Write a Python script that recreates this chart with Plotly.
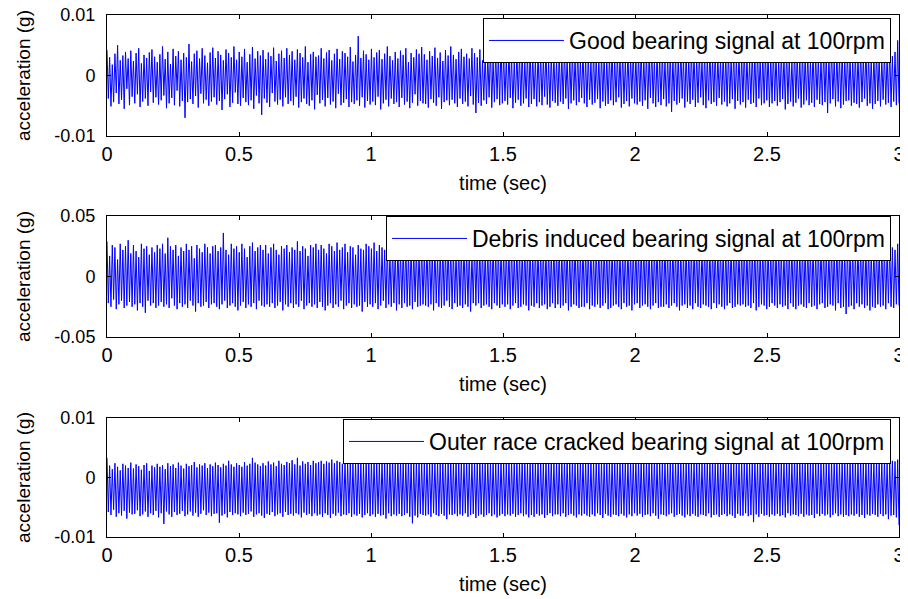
import numpy as np
import plotly.graph_objects as go

# ---------------- data ----------------
DURATION_S = 3.0
X_TICKS = [0, 0.5, 1, 1.5, 2, 2.5, 3]
X_TICK_LABELS = ["0", "0.5", "1", "1.5", "2", "2.5", "3"]

# Good bearing signal, in units of 1e-4 g
GOOD_E4 = [
    42, -38, 30, -51, 18, -44, 36, -29, 50, -47, 25, -40, 33, -55, 39, -22, 28, -49, 41, -35,
    24, -46, 37, -31, 45, -52, 20, -43, 34, -38, 29, -50, 38, -27, 43, -45, 31, -36, 22, -48,
    35, -41, 48, -33, 27, -54, 39, -46, 19, -37, 44, -49, 32, -25, 40, -51, 26, -42, 37, -70,
    30, -44, 52, -39, 23, -47, 36, -34, 41, -53, 28, -30, 45, -46, 33, -40, 21, -50, 38, -43,
    46, -36, 29, -48, 40, -42, 34, -57, 25, -39, 43, -31, 37, -52, 30, -45, 48, -28, 26, -47,
    39, -50, 31, -37, 44, -44, 22, -49, 35, -41, 47, -55, 28, -33, 40, -46, 33, -65, 42, -38,
    27, -45, 38, -52, 32, -29, 46, -43, 24, -48, 36, -40, 41, -51, 29, -36, 45, -47, 34, -42,
    40, -49, 26, -35, 43, -53, 37, -44, 30, -38, 48, -47, 22, -50, 35, -41, 39, -56, 31, -32,
    33, -46, 45, -40, 28, -51, 38, -37, 42, -48, 25, -43, 36, -54, 44, -30, 27, -49, 40, -45,
    37, -39, 31, -52, 47, -44, 23, -47, 34, -41, 65, -50, 29, -36, 41, -53, 35, -42, 26, -48,
    44, -43, 30, -49, 38, -35, 42, -56, 27, -46, 36, -40, 48, -51, 32, -38, 25, -47, 39, -44,
    28, -52, 41, -37, 34, -48, 45, -43, 22, -54, 37, -45, 30, -31, 43, -50, 36, -42, 47, -46,
    35, -47, 26, -53, 40, -39, 32, -45, 46, -50, 29, -36, 38, -55, 24, -44, 42, -41, 33, -49,
    48, -40, 34, -46, 27, -52, 39, -38, 44, -47, 31, -43, 36, -51, 28, -34, 45, -48, 37, -62,
    30, -45, 43, -50, 25, -41, 38, -47, 33, -36, 49, -53, 27, -44, 40, -39, 35, -49, 55, -46,
    38, -42, 29, -48, 45, -37, 32, -54, 26, -45, 41, -40, 36, -50, 43, -46, 24, -38, 39, -52,
    46, -47, 33, -39, 28, -51, 42, -44, 37, -49, 30, -35, 47, -48, 25, -53, 38, -42, 34, -45,
    27, -50, 40, -43, 35, -47, 44, -38, 29, -55, 36, -46, 41, -41, 32, -49, 48, -44, 26, -37,
    43, -46, 31, -52, 38, -40, 25, -48, 45, -45, 34, -39, 28, -54, 40, -43, 37, -50, 30, -47,
    36, -41, 47, -49, 29, -44, 39, -36, 33, -53, 42, -47, 26, -42, 45, -51, 31, -38, 44, -46,
    32, -48, 37, -43, 46, -50, 28, -41, 40, -55, 35, -37, 49, -46, 27, -52, 38, -44, 33, -49,
    41, -39, 26, -51, 35, -46, 44, -60, 30, -42, 38, -48, 32, -45, 46, -38, 29, -53, 40, -43,
    28, -47, 43, -40, 37, -52, 31, -45, 42, -36, 25, -49, 39, -54, 34, -41, 47, -47, 30, -44,
    45, -50, 33, -37, 27, -48, 40, -43, 36, -51, 44, -46, 29, -39, 41, -55, 32, -42, 38, -48,
    34, -44, 48, -53, 31, -40, 26, -47, 43, -45, 37, -52, 45, -38, 28, -49, 36, -46, 42, -41,
    39, -52, 30, -46, 44, -42, 35, -50, 27, -44, 41, -39, 33, -56, 46, -47, 31, -43, 25, -51,
    47, -45, 36, -38, 29, -53, 42, -48, 34, -41, 38, -49, 26, -45, 43, -52, 37, -40, 32, -47,
    30, -49, 45, -44, 38, -62, 33, -46, 47, -39, 28, -51, 40, -43, 35, -54, 44, -48, 27, -42,
    42, -41, 31, -50, 26, -45, 39, -47, 36, -53, 45, -44, 30, -38, 48, -50, 34, -46, 29, -55,
    37, -47, 44, -42, 33, -51, 28, -40, 41, -48, 35, -45, 46, -52, 32, -43, 39, -49, 58, -46,
]

# Debris induced bearing signal, in units of 1e-3 g
DEBRIS_E3 = [
    29, -22, 17, -25, 26, -19, 24, -27, 14, -23, 27, -20, 22, -26, 25, -24, 30, -21, 19, -25,
    26, -23, 21, -28, 16, -22, 27, -25, 23, -30, 25, -20, 18, -24, 24, -22, 20, -26, 26, -24,
    23, -21, 27, -25, 19, -23, 32, -26, 25, -18, 22, -24, 26, -27, 17, -22, 24, -25, 21, -23,
    27, -26, 22, -20, 25, -24, 15, -29, 26, -22, 23, -25, 20, -24, 27, -21, 24, -26, 19, -23,
    25, -22, 26, -25, 21, -27, 24, -23, 36, -20, 22, -26, 18, -24, 27, -22, 23, -25, 25, -28,
    20, -24, 27, -21, 23, -26, 16, -23, 25, -25, 28, -22, 21, -27, 24, -20, 26, -24, 22, -25,
    26, -23, 19, -25, 24, -22, 27, -26, 22, -24, 18, -21, 25, -28, 23, -23, 26, -25, 20, -22,
    24, -26, 22, -23, 29, -25, 21, -20, 25, -27, 23, -24, 17, -22, 26, -25, 24, -23, 27, -26,
    22, -21, 26, -25, 23, -28, 19, -24, 27, -22, 25, -26, 21, -23, 28, -25, 22, -20, 24, -27,
    27, -24, 20, -22, 25, -26, 24, -23, 18, -25, 26, -24, 23, -29, 22, -21, 27, -25, 25, -23,
    23, -25, 28, -22, 21, -27, 26, -24, 24, -20, 22, -26, 27, -23, 19, -25, 25, -22, 23, -28,
    26, -23, 22, -26, 24, -22, 29, -25, 20, -24, 26, -27, 23, -21, 25, -25, 21, -24, 27, -23,
    21, -24, 27, -25, 25, -23, 22, -28, 26, -22, 18, -25, 24, -26, 27, -24, 23, -20, 26, -25,
    25, -27, 23, -22, 20, -25, 27, -24, 24, -26, 26, -23, 22, -25, 25, -29, 19, -22, 28, -24,
    27, -22, 24, -26, 26, -24, 21, -23, 25, -25, 23, -27, 28, -22, 22, -24, 26, -26, 24, -23,
    22, -25, 26, -23, 23, -27, 27, -24, 19, -22, 25, -26, 24, -25, 21, -23, 27, -24, 25, -28,
    26, -24, 21, -25, 28, -22, 24, -26, 22, -24, 26, -23, 23, -27, 25, -25, 20, -22, 27, -26,
    24, -23, 27, -26, 22, -24, 25, -22, 26, -28, 21, -25, 24, -23, 28, -24, 23, -26, 22, -25,
    27, -25, 23, -22, 26, -27, 24, -24, 20, -25, 27, -23, 25, -26, 22, -24, 26, -22, 24, -27,
    23, -26, 25, -24, 21, -23, 27, -25, 24, -27, 22, -22, 26, -25, 25, -24, 23, -28, 27, -23,
    26, -22, 22, -26, 25, -24, 28, -23, 23, -25, 26, -27, 21, -24, 24, -22, 27, -26, 22, -25,
    24, -25, 27, -23, 23, -26, 21, -24, 26, -22, 25, -25, 27, -28, 23, -24, 20, -23, 26, -26,
    22, -24, 26, -27, 24, -22, 27, -25, 22, -26, 24, -23, 26, -24, 28, -25, 23, -27, 25, -22,
    27, -26, 23, -23, 25, -25, 22, -27, 26, -24, 21, -22, 25, -26, 24, -25, 27, -23, 22, -24,
    24, -23, 27, -25, 21, -24, 26, -26, 23, -22, 27, -28, 24, -25, 22, -23, 26, -24, 25, -27,
    26, -25, 22, -22, 27, -24, 24, -26, 25, -23, 23, -25, 20, -24, 27, -27, 24, -22, 26, -25,
    23, -27, 25, -24, 22, -23, 26, -25, 24, -26, 28, -22, 23, -25, 25, -24, 21, -27, 27, -23,
    25, -22, 27, -26, 24, -25, 21, -23, 26, -24, 23, -28, 27, -22, 24, -26, 26, -25, 22, -31,
    27, -25, 23, -24, 25, -27, 22, -22, 26, -25, 24, -23, 27, -26, 23, -24, 25, -28, 21, -25,
    24, -26, 26, -23, 22, -25, 27, -24, 25, -27, 23, -22, 26, -25, 24, -26, 22, -23, 27, -24,
]

# Outer race cracked bearing signal, in units of 1e-4 g
OUTER_E4 = [
    33, -58, 20, -63, 14, -54, 24, -66, 18, -60, 12, -64, 23, -56, 20, -69, 16, -59, 25, -62,
    15, -61, 22, -55, 19, -65, 13, -62, 21, -57, 24, -66, 11, -60, 20, -63, 17, -56, 23, -67,
    18, -60, 21, -78, 14, -57, 24, -62, 19, -66, 22, -58, 16, -63, 25, -61, 20, -56, 15, -65,
    23, -62, 19, -57, 21, -64, 26, -59, 17, -66, 22, -61, 20, -55, 24, -63, 16, -59, 22, -65,
    19, -61, 25, -60, 21, -76, 17, -64, 23, -61, 20, -67, 28, -58, 22, -63, 18, -60, 24, -62,
    21, -65, 18, -59, 26, -63, 20, -61, 23, -57, 33, -66, 25, -62, 22, -60, 19, -64, 24, -68,
    20, -61, 27, -63, 22, -58, 25, -65, 19, -62, 28, -60, 23, -66, 21, -58, 26, -63, 24, -61,
    29, -64, 22, -60, 33, -62, 20, -67, 27, -59, 23, -63, 26, -61, 21, -65, 28, -60, 24, -64,
    26, -62, 28, -66, 23, -60, 27, -63, 25, -68, 30, -61, 24, -64, 28, -59, 26, -65, 23, -62,
    28, -63, 25, -60, 29, -66, 24, -62, 27, -64, 30, -61, 26, -67, 23, -63, 28, -60, 25, -65,
    27, -62, 30, -66, 26, -61, 24, -64, 29, -63, 25, -69, 28, -60, 26, -65, 30, -62, 24, -64,
    29, -61, 26, -65, 28, -63, 25, -60, 30, -66, 27, -77, 24, -64, 29, -67, 26, -61, 28, -63,
    25, -64, 29, -62, 27, -66, 30, -60, 26, -63, 28, -65, 24, -61, 29, -64, 27, -70, 25, -62,
    30, -63, 26, -61, 28, -65, 25, -62, 29, -64, 27, -60, 30, -66, 26, -63, 28, -61, 25, -68,
    27, -64, 29, -62, 26, -66, 28, -63, 30, -60, 25, -65, 29, -62, 27, -67, 26, -64, 29, -61,
    28, -65, 25, -62, 30, -64, 27, -61, 29, -66, 26, -63, 28, -60, 31, -65, 27, -62, 25, -67,
    29, -63, 27, -66, 25, -61, 30, -64, 28, -62, 26, -68, 29, -63, 27, -60, 30, -65, 26, -62,
    26, -62, 30, -65, 28, -60, 25, -66, 29, -63, 27, -61, 31, -64, 26, -67, 28, -62, 30, -64,
    30, -61, 26, -64, 29, -66, 27, -62, 25, -65, 30, -60, 28, -63, 26, -68, 29, -61, 27, -64,
    27, -66, 31, -62, 26, -63, 29, -65, 27, -61, 25, -64, 30, -67, 28, -62, 26, -65, 31, -60,
    29, -64, 27, -61, 30, -66, 26, -63, 28, -62, 31, -65, 25, -60, 29, -64, 27, -69, 30, -62,
    26, -63, 29, -65, 27, -62, 30, -60, 25, -66, 28, -63, 31, -61, 26, -64, 29, -67, 27, -62,
    30, -65, 26, -61, 28, -64, 27, -66, 29, -62, 25, -63, 30, -65, 28, -60, 26, -67, 31, -63,
    27, -62, 30, -66, 25, -63, 29, -61, 28, -65, 26, -62, 31, -64, 27, -68, 29, -61, 26, -64,
    29, -64, 27, -60, 30, -65, 26, -63, 28, -75, 31, -62, 27, -66, 25, -61, 30, -64, 28, -63,
    26, -66, 29, -62, 27, -64, 31, -61, 25, -65, 30, -63, 28, -67, 26, -60, 29, -64, 27, -62,
    31, -63, 26, -65, 29, -61, 27, -66, 30, -62, 28, -64, 25, -63, 29, -68, 27, -61, 30, -65,
    27, -61, 30, -64, 26, -62, 29, -67, 28, -63, 31, -60, 27, -65, 25, -62, 30, -66, 28, -63,
    29, -65, 27, -62, 31, -64, 26, -61, 28, -66, 30, -63, 27, -68, 29, -62, 26, -64, 31, -61,
    28, -63, 26, -66, 30, -61, 27, -65, 29, -62, 25, -70, 31, -64, 28, -63, 27, -67, 30, -80,
]

PANELS = [
    dict(name="Good bearing signal at 100rpm", values=np.array(GOOD_E4) * 1e-4,
         yrange=[-0.01, 0.01], yticks=[-0.01, 0, 0.01], ylabels=["-0.01", "0", "0.01"]),
    dict(name="Debris induced bearing signal at 100rpm", values=np.array(DEBRIS_E3) * 1e-3,
         yrange=[-0.05, 0.05], yticks=[-0.05, 0, 0.05], ylabels=["-0.05", "0", "0.05"]),
    dict(name="Outer race cracked bearing signal at 100rpm", values=np.array(OUTER_E4) * 1e-4,
         yrange=[-0.01, 0.01], yticks=[-0.01, 0, 0.01], ylabels=["-0.01", "0", "0.01"]),
]

# ---------------- layout ----------------
# The page body has an 8px margin, so the figure starts at (8, 8) of the window.
OFF = 8
W, H = 900, 591
FONT = "Liberation Sans, Arial, sans-serif"


def fx(px):
    return (px - OFF) / W


def fy(py):
    return 1 - (py - OFF) / H


X_DOM = [fx(107), fx(899)]
Y_PIX = [(15, 136), (216, 337), (418, 537)]          # top, bottom in window px
LEGEND_POS = [(891, 18), (891, 216), (891, 419)]      # right, top in window px

fig = go.Figure()
layout = dict(
    template="none",
    width=W, height=H, margin=dict(l=0, r=0, t=0, b=0, autoexpand=False),
    paper_bgcolor="white", plot_bgcolor="white",
    font=dict(family=FONT, size=20, color="black"),
    showlegend=True,
)

for i, p in enumerate(PANELS):
    n = len(p["values"])
    t = np.arange(n) * DURATION_S / (n - 1)
    sfx = "" if i == 0 else str(i + 1)
    leg = "legend" if i == 0 else f"legend{i + 1}"
    fig.add_trace(go.Scatter(
        x=t, y=p["values"], mode="lines", name=p["name"],
        line=dict(color="#0000FF", width=1),
        xaxis="x" + sfx, yaxis="y" + sfx, legend=leg,
    ))
    top, bot = Y_PIX[i]
    layout["xaxis" + sfx] = dict(
        domain=X_DOM, anchor="y" + sfx, range=[0, 3], automargin=False,
        tickvals=X_TICKS, ticktext=X_TICK_LABELS,
        ticks="inside", ticklen=4, tickcolor="black", tickwidth=1,
        showline=True, linecolor="black", linewidth=1, mirror="ticks",
        showgrid=False, zeroline=False,
        ticklabelstandoff=0, ticklabeloverflow="allow",
        tickfont=dict(size=20),
        title=dict(text="time (sec)", font=dict(size=20), standoff=11),
    )
    layout["yaxis" + sfx] = dict(
        domain=[fy(bot), fy(top)], anchor="x" + sfx, range=p["yrange"],
        automargin=False,
        tickvals=p["yticks"], ticktext=p["ylabels"],
        ticks="inside", ticklen=4, tickcolor="black", tickwidth=1,
        showline=True, linecolor="black", linewidth=1, mirror="ticks",
        showgrid=False, zeroline=False,
        ticklabelstandoff=7, ticklabeloverflow="allow",
        tickfont=dict(size=18),
        title=dict(text="acceleration (g)", font=dict(size=19), standoff=18),
    )
    rx, ty = LEGEND_POS[i]
    layout[leg] = dict(
        x=fx(rx), y=fy(ty), xanchor="right", yanchor="top",
        xref="paper", yref="paper",
        bgcolor="white", bordercolor="black", borderwidth=1,
        font=dict(family=FONT, size=23, color="black"),
        itemwidth=75,
    )

fig.update_layout(**layout)
fig.write_html("out.html")
